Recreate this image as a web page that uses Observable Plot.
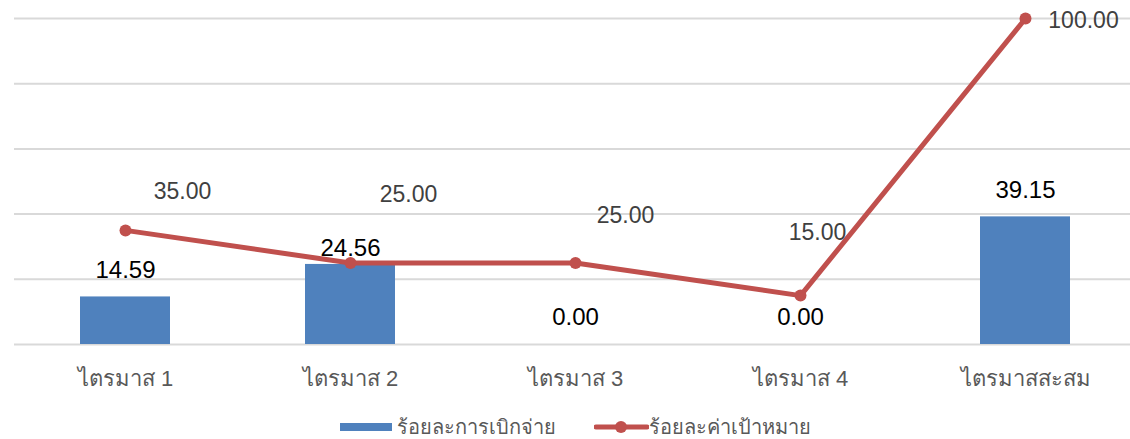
<!DOCTYPE html>
<html>
<head>
<meta charset="utf-8">
<script src="https://cdn.jsdelivr.net/npm/d3@7"></script>
<script src="https://cdn.jsdelivr.net/npm/@observablehq/plot@0.6"></script>
<style>
  html, body { margin: 0; padding: 0; background: #fff; overflow: hidden; }
  body { width: 1130px; height: 439px; font-family: Tahoma, "Liberation Sans", "Noto Sans", sans-serif; }
  #legend { position: absolute; top: 411px; left: 340px; display: flex; align-items: center; font-size: 20px; color: #595959; }
  #legend .item { display: flex; align-items: center; }
</style>
</head>
<body>
<div id="chart"></div>
<div id="legend"></div>
<script>
// ---- data ----
const categories = ["ไตรมาส 1", "ไตรมาส 2", "ไตรมาส 3", "ไตรมาส 4", "ไตรมาสสะสม"];
const disbursed = [14.59, 24.56, 0.00, 0.00, 39.15];   // ร้อยละการเบิกจ่าย (bars)
const target = [35.00, 25.00, 25.00, 15.00, 100.00];    // ร้อยละค่าเป้าหมาย (line)
const seriesNames = ["ร้อยละการเบิกจ่าย", "ร้อยละค่าเป้าหมาย"];
const gridTicks = [0, 20, 40, 60, 80, 100];

// label nudges (styling, pixels)
const barLabelDy = [-27, -16, -27, -27, -27];
const lineLabelNudge = [[57, -39], [58, -68], [50, -47], [17, -63], [58, 2]];

const BLUE = "#4F81BD", RED = "#C0504D";

const barData = categories.map((c, i) => ({cat: c, v: disbursed[i]}));
const lineData = categories.map((c, i) => ({cat: c, v: target[i]}));

const marks = [
  Plot.ruleY(gridTicks, {stroke: "#D9D9D9", strokeWidth: 2}),
  Plot.barY(barData, {x: "cat", y: "v", fill: BLUE}),
  ...barData.map((d, i) => Plot.text([d], {
    x: "cat", y: "v", text: dd => dd.v.toFixed(2), dy: barLabelDy[i],
    fontSize: 24, fill: "#000"
  })),
  Plot.line(lineData, {x: "cat", y: "v", stroke: RED, strokeWidth: 5}),
  Plot.dot(lineData, {x: "cat", y: "v", r: 6, fill: RED, stroke: "none"}),
  ...lineData.map((d, i) => Plot.text([d], {
    x: "cat", y: "v", text: dd => dd.v.toFixed(2),
    dx: lineLabelNudge[i][0], dy: lineLabelNudge[i][1],
    fontSize: 23, fill: "#404040"
  })),
  Plot.axisX({tickSize: 0, tickPadding: 26, fontSize: 22, color: "#595959", label: null})
];

const chart = Plot.plot({
  width: 1130,
  height: 405,
  marginTop: 18,
  marginBottom: 61,
  marginLeft: 14,
  marginRight: 0,
  style: {fontFamily: 'Tahoma, "Liberation Sans", "Noto Sans", sans-serif', background: "#fff", overflow: "visible"},
  x: {type: "band", domain: categories, range: [12.5, 1137.5], paddingInner: 0.6, paddingOuter: 0.3, axis: null},
  y: {domain: [0, 100], axis: null},
  marks
});
document.getElementById("chart").appendChild(chart);

// legend
const legend = document.getElementById("legend");
legend.innerHTML = `
  <div class="item"><svg width="52" height="10" style="margin-right:5px"><rect x="0" y="1" width="52" height="8" fill="${BLUE}"/></svg><span>${seriesNames[0]}</span></div>
  <div class="item" style="margin-left:38px"><svg width="55" height="14" style="margin-right:0px"><line x1="2" y1="7" x2="53" y2="7" stroke="${RED}" stroke-width="5" stroke-linecap="round"/><circle cx="27" cy="7" r="6" fill="${RED}"/></svg><span>${seriesNames[1]}</span></div>
`;
</script>
</body>
</html>
